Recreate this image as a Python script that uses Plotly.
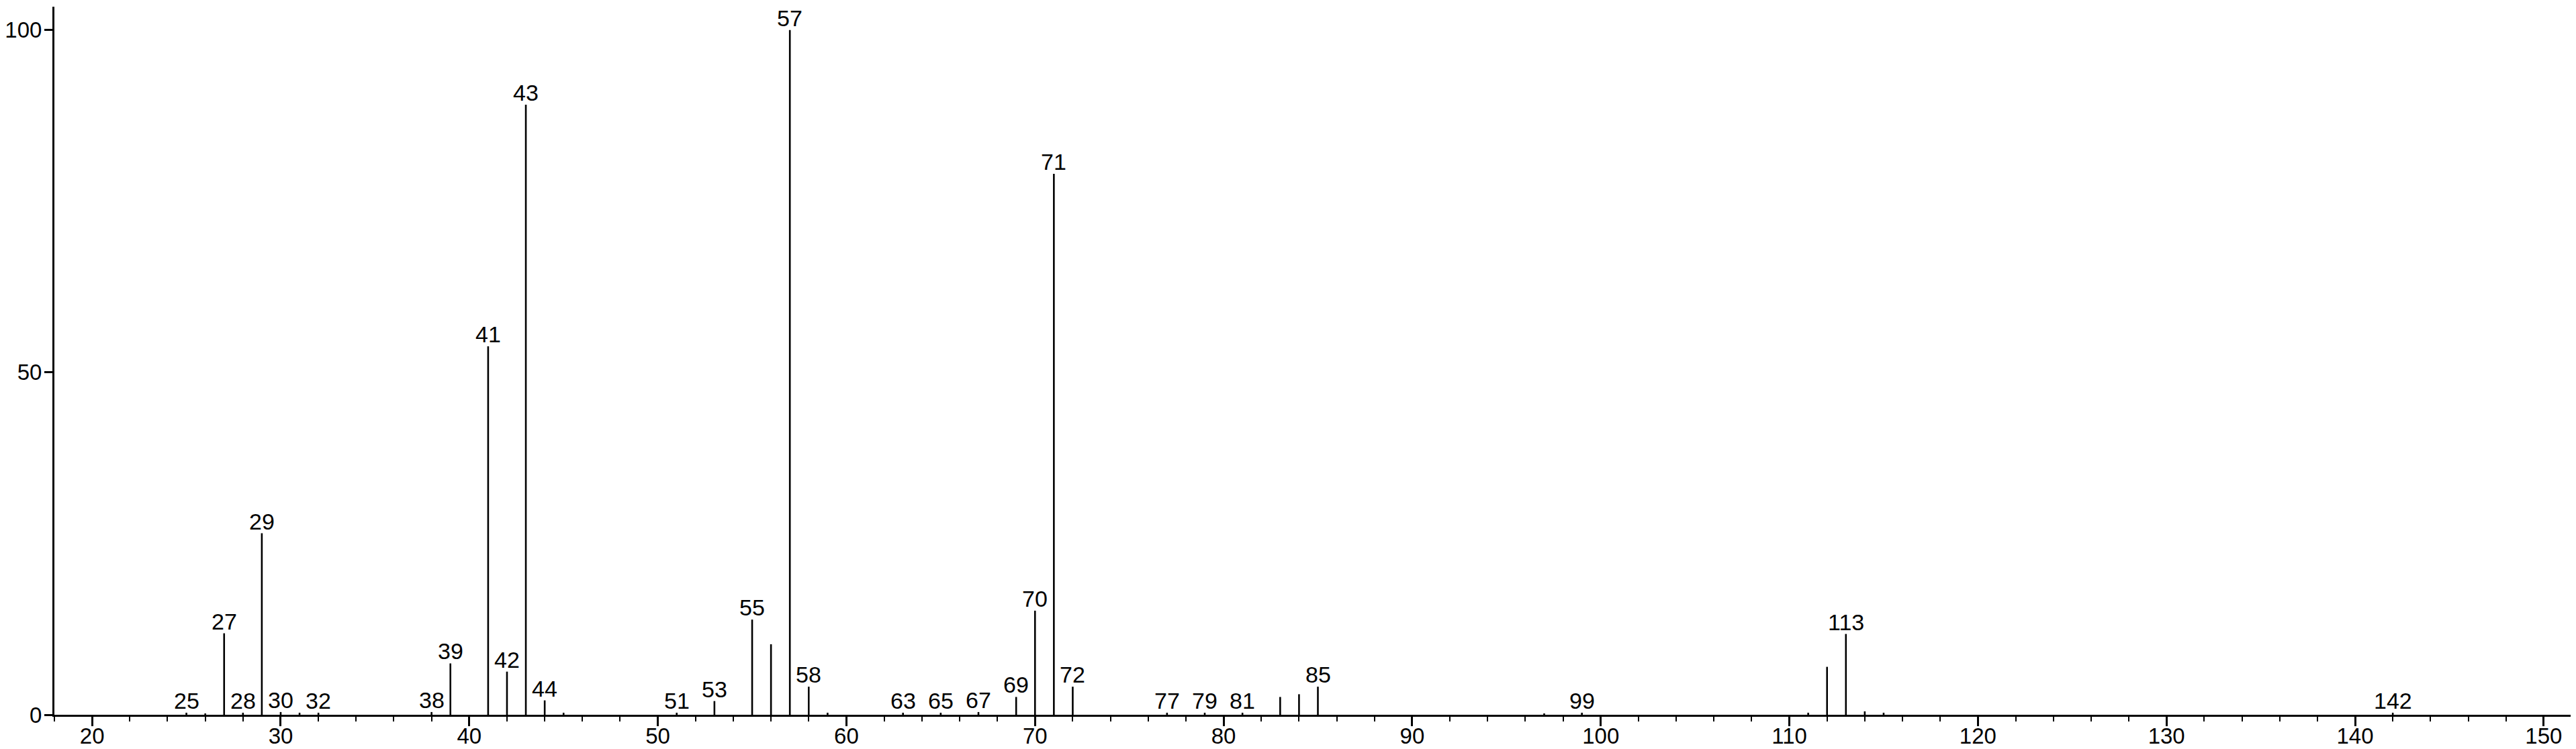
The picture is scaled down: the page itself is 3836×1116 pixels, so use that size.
import plotly.graph_objects as go

# m/z values and relative intensities (%)
mz = [25, 26, 27, 28, 29, 30, 31, 32, 38, 39, 41, 42, 43, 44, 45, 51, 53, 55, 56, 57,
      58, 59, 63, 65, 67, 69, 70, 71, 72, 77, 79, 81, 83, 84, 85, 97, 99, 111, 112, 113,
      114, 115, 142]
intensity = [0.3, 0.2, 11.9, 0.3, 26.5, 0.4, 0.3, 0.3, 0.4, 7.5, 53.8, 6.3, 89.1, 2.1, 0.3, 0.3, 2.0, 13.9, 10.3, 100.0,
             4.1, 0.3, 0.3, 0.3, 0.4, 2.6, 15.2, 79.0, 4.1, 0.3, 0.3, 0.3, 2.6, 3.0, 4.1, 0.2, 0.3, 0.3, 7.0, 11.8,
             0.5, 0.3, 0.3]
labelled = [25, 27, 28, 29, 30, 32, 38, 39, 41, 42, 43, 44, 51, 53, 55, 57, 58, 63, 65, 67,
            69, 70, 71, 72, 77, 79, 81, 85, 99, 113, 142]

x_ticks = [20, 30, 40, 50, 60, 70, 80, 90, 100, 110, 120, 130, 140, 150]
y_ticks = [0, 50, 100]

FONT = "Liberation Sans, Arial"

xs, ys = [], []
for m, v in zip(mz, intensity):
    xs += [m, m, None]
    ys += [0, v, None]

fig = go.Figure()
fig.add_trace(go.Scatter(x=xs, y=ys, mode="lines",
                         line=dict(color="black", width=2.6),
                         hoverinfo="skip", showlegend=False))

inten = dict(zip(mz, intensity))
for m in labelled:
    fig.add_annotation(x=m, y=inten[m], text=str(m), showarrow=False,
                       yanchor="bottom", xanchor="center", yshift=-3,
                       font=dict(size=34, color="black", family=FONT))

fig.update_layout(
    width=3836, height=1116,
    margin=dict(l=73, r=0, t=2, b=59, autoexpand=False),
    paper_bgcolor="white", plot_bgcolor="white",
    font=dict(family=FONT, size=33, color="black"),
    showlegend=False,
)
fig.update_xaxes(range=[18, 152], tickvals=x_ticks, ticktext=[str(t) for t in x_ticks],
                 automargin=False,
                 showgrid=False, zeroline=False, showline=True, linecolor="black", linewidth=3,
                 ticks="outside", ticklen=14, tickwidth=3, tickcolor="black",
                 ticklabelstandoff=-14,
                 minor=dict(dtick=2, tick0=0, ticks="outside", ticklen=7, tickwidth=2, tickcolor="black", showgrid=False),
                 tickfont=dict(size=33, family=FONT))
fig.update_yaxes(range=[0, 103.4], tickvals=y_ticks, ticktext=[str(t) for t in y_ticks],
                 automargin=False,
                 showgrid=False, zeroline=False, showline=True, linecolor="black", linewidth=3,
                 ticks="outside", ticklen=12, tickwidth=3, tickcolor="black",
                 ticklabelstandoff=-3,
                 tickfont=dict(size=33, family=FONT))

fig.write_html("out.html")
